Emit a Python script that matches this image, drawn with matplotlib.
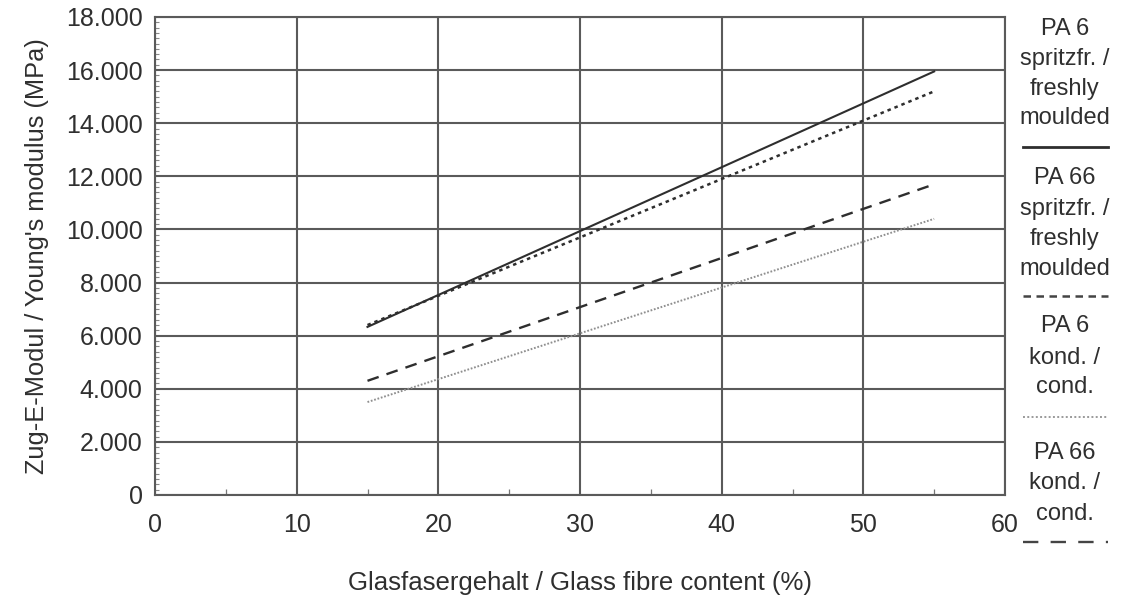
import matplotlib
matplotlib.use("Agg")
import matplotlib.pyplot as plt
from matplotlib.lines import Line2D
from matplotlib.ticker import FuncFormatter, MultipleLocator

# Data
glass_content = [15, 55]
pa6_fresh = [6330, 15950]
pa66_fresh = [6400, 15200]
pa6_cond = [3500, 10400]
pa66_cond = [4300, 11700]

x_ticks = [0, 10, 20, 30, 40, 50, 60]
y_ticks = [0, 2000, 4000, 6000, 8000, 10000, 12000, 14000, 16000, 18000]

legend_labels = [["PA 6", "spritzfr. /", "freshly", "moulded"],
                 ["PA 66", "spritzfr. /", "freshly", "moulded"],
                 ["PA 6", "kond. /", "cond."],
                 ["PA 66", "kond. /", "cond."]]

plt.rcParams['font.family'] = ['Liberation Sans', 'DejaVu Sans']

W, H = 1133, 603
fig = plt.figure(figsize=(W / 100, H / 100), dpi=100)
ax = fig.add_axes([155 / W, 1 - 495 / H, 850 / W, 478 / H])

grid_c = "#5a5a5a"
line_c = "#2e2e2e"
text_c = "#2f2f2f"

styles = {
    "pa6_fresh": dict(color=line_c, lw=1.5, linestyle="-"),
    "pa66_fresh": dict(color=line_c, lw=1.8, linestyle=(0, (1.4, 1.6))),
    "pa6_cond": dict(color="#8f8f8f", lw=1.4, linestyle=(0, (0.9, 0.9))),
    "pa66_cond": dict(color=line_c, lw=1.7, linestyle=(0, (5, 3.5))),
}
leg_styles = [
    dict(color=line_c, lw=2.0, linestyle="-"),
    dict(color="#444444", lw=1.8, linestyle=(0, (3, 2.2))),
    dict(color="#9a9a9a", lw=1.4, linestyle=(0, (1, 1.2))),
    dict(color="#444444", lw=1.7, linestyle=(0, (6.5, 5.2))),
]

ax.plot(glass_content, pa6_fresh, **styles["pa6_fresh"])
ax.plot(glass_content, pa66_fresh, **styles["pa66_fresh"])
ax.plot(glass_content, pa6_cond, **styles["pa6_cond"])
ax.plot(glass_content, pa66_cond, **styles["pa66_cond"])

ax.set_xlim(0, 60)
ax.set_ylim(0, 18000)
ax.set_xticks(x_ticks)
ax.set_yticks(y_ticks)
ax.yaxis.set_major_formatter(FuncFormatter(lambda v, p: f"{int(v):,}".replace(",", ".")))
ax.yaxis.set_minor_locator(MultipleLocator(200))
ax.xaxis.set_minor_locator(MultipleLocator(5))
ax.grid(True, which="major", color=grid_c, lw=1.5)
ax.set_axisbelow(True)
for s in ax.spines.values():
    s.set_color(grid_c)
    s.set_linewidth(1.5)
ax.tick_params(axis="both", which="major", length=0, colors=text_c, labelsize=18)
ax.tick_params(axis="y", which="major", pad=9)
ax.tick_params(axis="x", which="major", pad=13)
ax.tick_params(axis="y", which="minor", direction="in", length=3, color="#888888", width=0.8)
ax.tick_params(axis="x", which="minor", direction="in", length=4, color="#777777", width=0.9)

ax.set_xlabel("Glasfasergehalt / Glass fibre content (%)", fontsize=18.5, color=text_c)
ax.xaxis.set_label_coords(0.5, -(583 - 495) / 478, transform=ax.transAxes)
ax.xaxis.label.set_va("center")
ax.set_ylabel("Zug-E-Modul / Young's modulus (MPa)", fontsize=18.3, color=text_c, labelpad=12)

# Legend on the right
baselines = [[35, 65, 95, 124], [184, 215, 245, 275], [332, 364, 393], [459, 489, 520]]
sample_ys = [147, 296, 417, 542]
for lines, bls, sy, st in zip(legend_labels, baselines, sample_ys, leg_styles):
    for txt, b in zip(lines, bls):
        fig.text(1065 / W, 1 - b / H, txt, ha="center", va="baseline", fontsize=17, color=text_c)
    fig.add_artist(Line2D([1023 / W, 1108 / W], [1 - sy / H, 1 - sy / H],
                          transform=fig.transFigure, **st))

fig.savefig("out.png", dpi=100)
